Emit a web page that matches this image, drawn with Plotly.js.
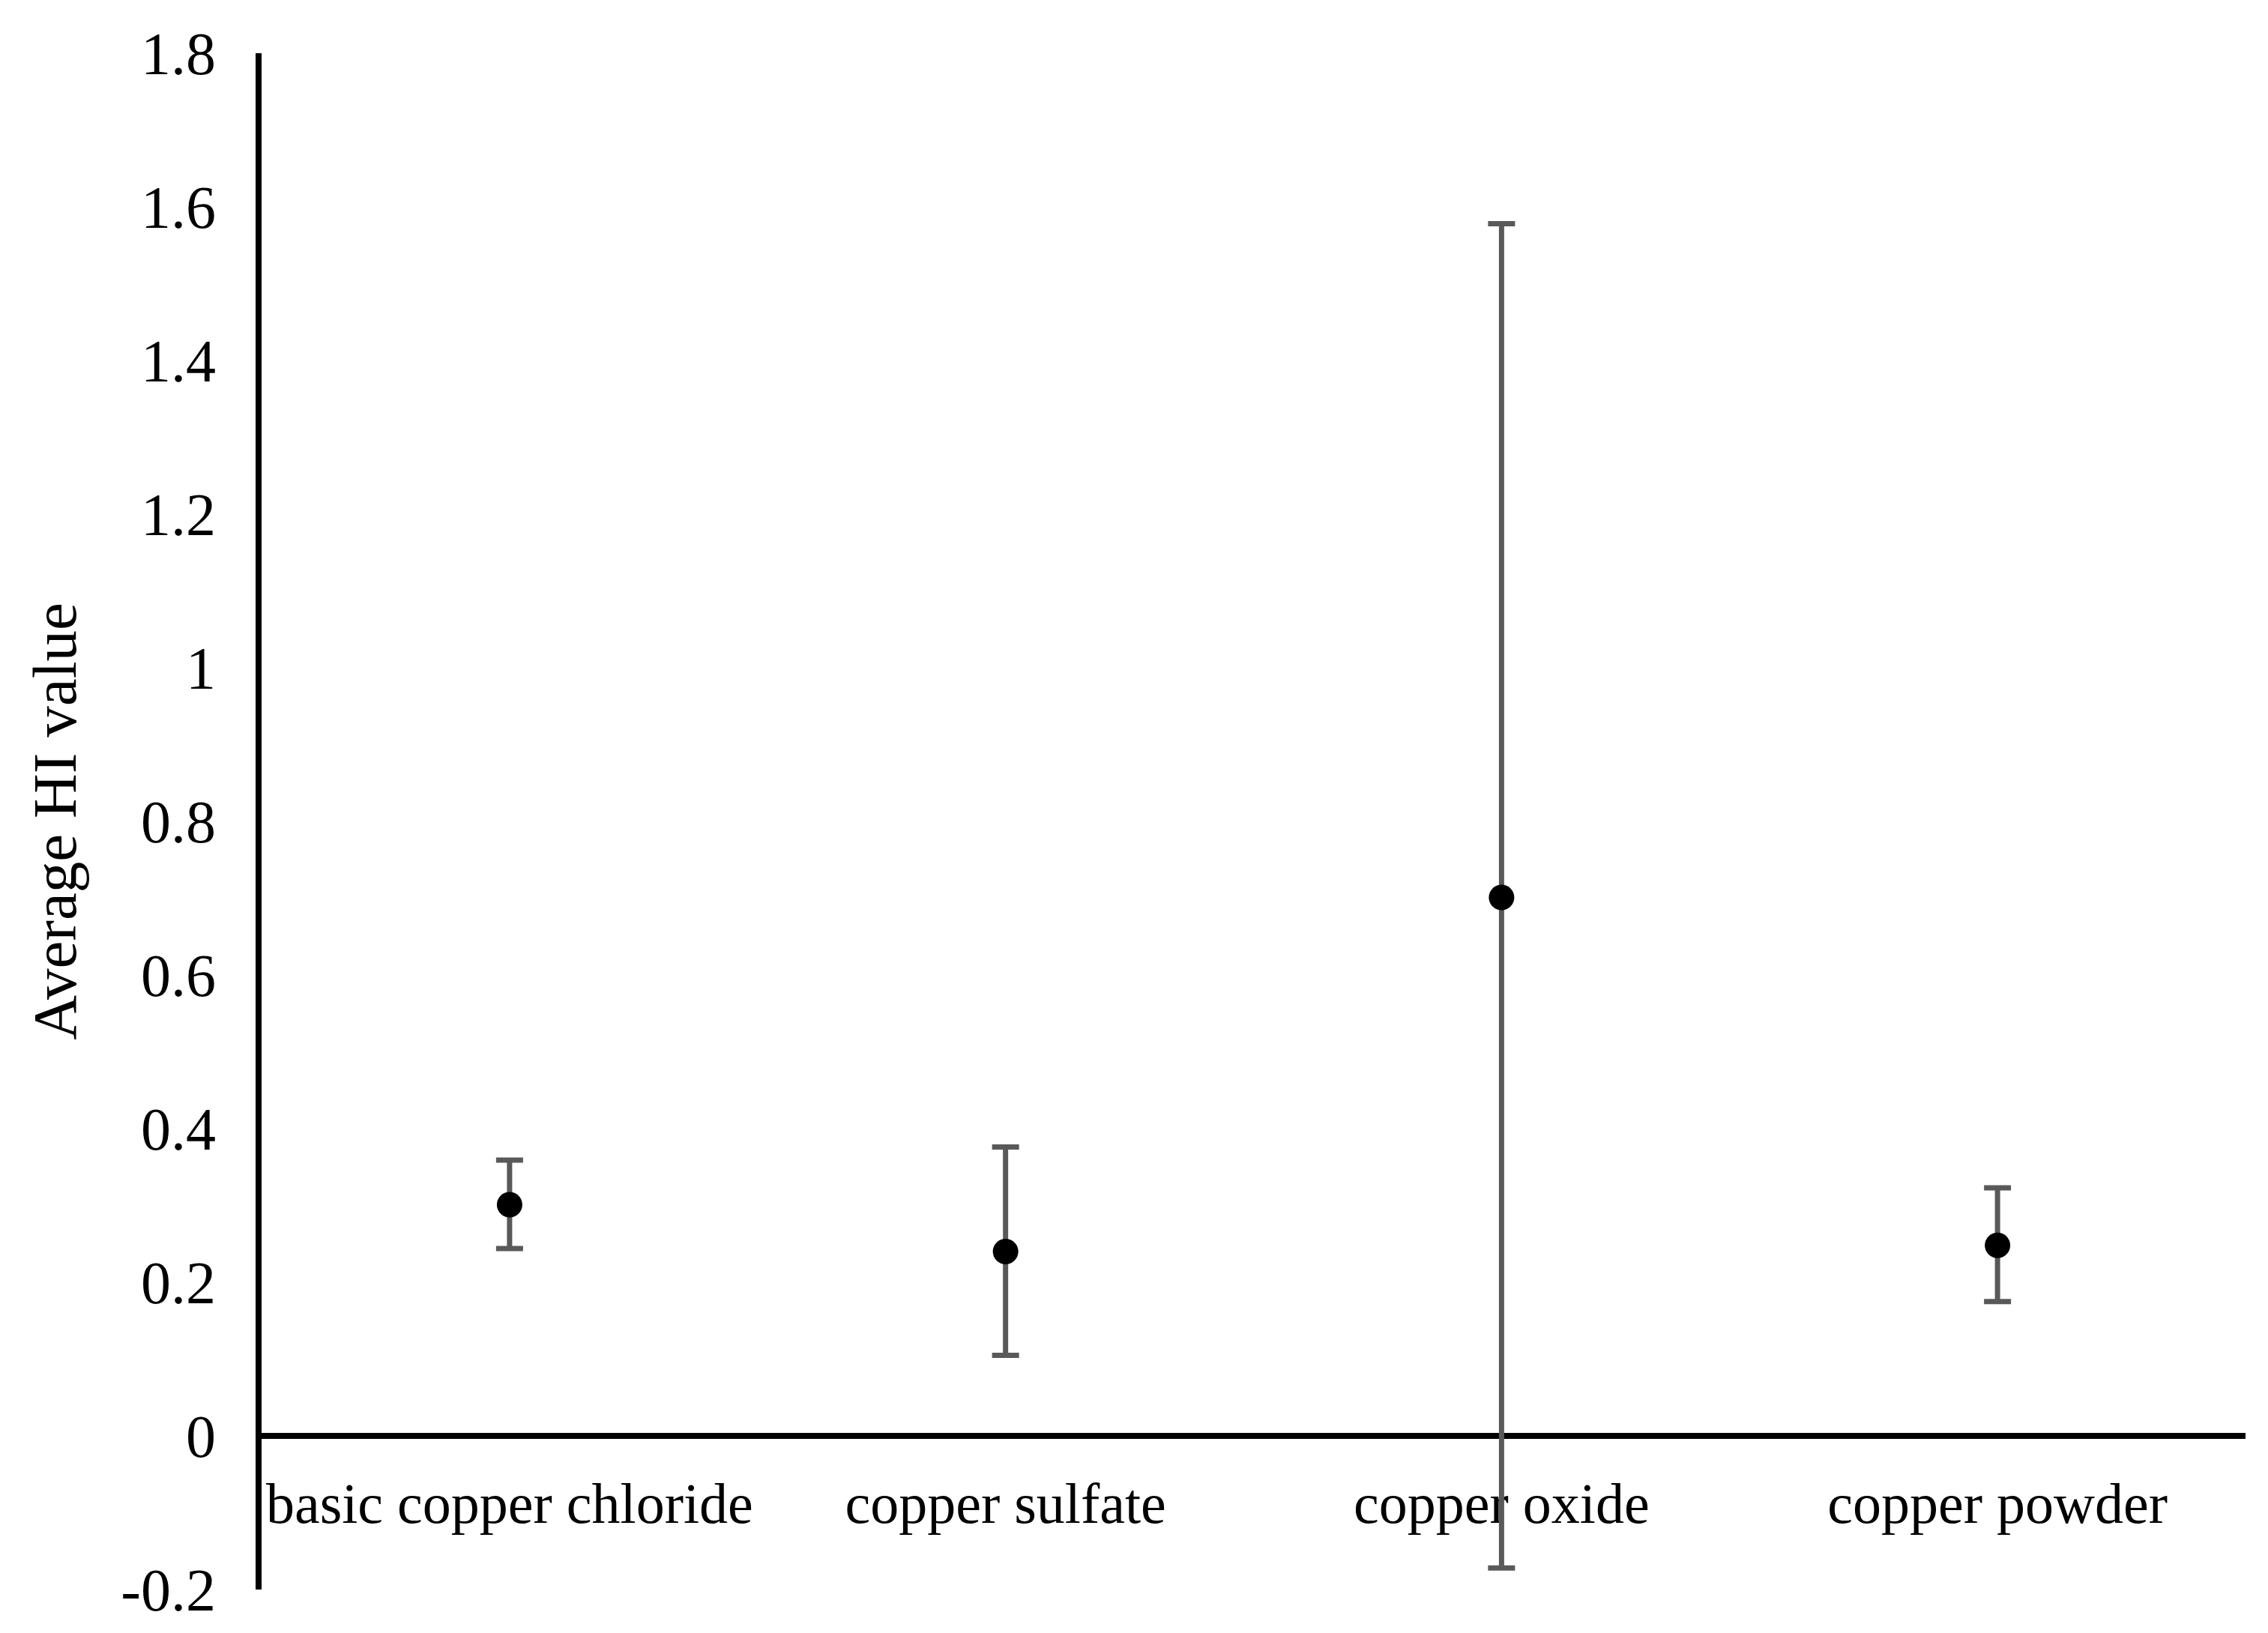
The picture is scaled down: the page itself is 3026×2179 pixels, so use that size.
<!DOCTYPE html>
<html>
<head>
<meta charset="utf-8">
<script src="https://cdn.plot.ly/plotly-3.0.1.min.js"></script>
<style>html,body{margin:0;padding:0;background:#fff;}#chart{width:3026px;height:2179px;}</style>
</head>
<body>
<div id="chart"></div>
<script>
const categories = ["basic copper chloride", "copper sulfate", "copper oxide", "copper powder"];
const meanHI = [0.301, 0.240, 0.701, 0.248];
const upperHI = [0.359, 0.376, 1.578, 0.323];
const lowerHI = [0.244, 0.105, -0.172, 0.175];
const yTickVals = [-0.2, 0, 0.2, 0.4, 0.6, 0.8, 1, 1.2, 1.4, 1.6, 1.8];
const yTickText = ["-0.2", "0", "0.2", "0.4", "0.6", "0.8", "1", "1.2", "1.4", "1.6", "1.8"];

const errPlus = meanHI.map((m, i) => upperHI[i] - m);
const errMinus = meanHI.map((m, i) => m - lowerHI[i]);

const font = "Liberation Serif, Times New Roman, serif";

const trace = {
  type: "scatter",
  mode: "markers",
  x: categories,
  y: meanHI,
  marker: {color: "#000000", size: 34, line: {width: 0}},
  error_y: {
    type: "data",
    symmetric: false,
    array: errPlus,
    arrayminus: errMinus,
    color: "#595959",
    thickness: 7,
    width: 18
  },
  showlegend: false,
  hoverinfo: "x+y"
};

const layout = {
  width: 3026,
  height: 2179,
  paper_bgcolor: "#ffffff",
  plot_bgcolor: "#ffffff",
  margin: {l: 349, r: 30, t: 71, b: 58},
  font: {family: font, color: "#000000", size: 78},
  xaxis: {
    type: "category",
    range: [-0.5, 3.5],
    anchor: "free",
    position: 0.1,
    showline: true,
    linecolor: "#000000",
    linewidth: 8,
    layer: "below traces",
    showgrid: false,
    zeroline: false,
    ticks: "outside",
    ticklen: 21,
    tickcolor: "rgba(0,0,0,0)",
    tickfont: {family: font, size: 76, color: "#000000"},
    automargin: false
  },
  yaxis: {
    range: [-0.2, 1.8],
    tickvals: yTickVals,
    ticktext: yTickText,
    showline: true,
    linecolor: "#000000",
    linewidth: 8,
    layer: "below traces",
    showgrid: false,
    zeroline: false,
    ticks: "outside",
    ticklen: 37,
    tickcolor: "rgba(0,0,0,0)",
    tickfont: {family: font, size: 80, color: "#000000"},
    title: {text: "Average HI value", standoff: 35, font: {family: font, size: 83, color: "#000000"}},
    automargin: true
  }
};

Plotly.newPlot("chart", [trace], layout, {displayModeBar: false, staticPlot: true});
</script>
</body>
</html>
